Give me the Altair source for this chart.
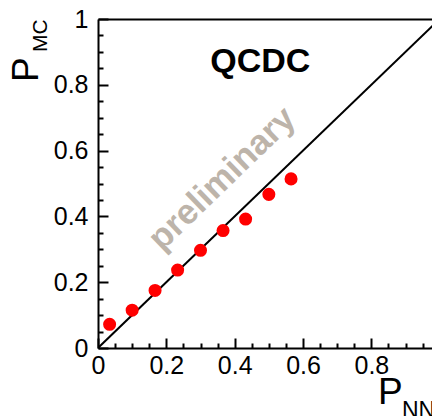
import altair as alt
import pandas as pd

# ---- data ----
p_nn = [0.034, 0.100, 0.167, 0.233, 0.300, 0.366, 0.432, 0.500, 0.565]
p_mc = [0.072, 0.115, 0.175, 0.237, 0.297, 0.357, 0.392, 0.467, 0.514]
diag_x = [0.0, 1.0]
diag_y = [0.0, 1.0]
x_major = [0, 0.2, 0.4, 0.6, 0.8]
y_major = [0, 0.2, 0.4, 0.6, 0.8, 1.0]
tick_values = [0, 0.05, 0.1, 0.15, 0.2, 0.25, 0.3, 0.35, 0.4, 0.45, 0.5,
               0.55, 0.6, 0.65, 0.7, 0.75, 0.8, 0.85, 0.9, 0.95, 1.0]
label_text = ["QCDC"]
label_x = [0.475]
label_y = [0.839]
wm_text = ["preliminary"]
wm_x = [0.363]
wm_y = [0.515]

W, H = 334, 329
XMAX = 0.9775
FONT = "Liberation Sans"

xs = alt.Scale(domain=[0, XMAX], nice=False, zero=False)
ys = alt.Scale(domain=[0, 1], nice=False, zero=False)

major_test = "abs(datum.value*5 - round(datum.value*5)) < 0.001"

label_x_axis = alt.Axis(orient="bottom", values=x_major, format="~g", ticks=False,
                        domain=True, domainColor="black", domainWidth=2,
                        labelFont=FONT, labelFontSize=25, labelColor="black",
                        labelPadding=5, labelFlush=False, labelOverlap=False,
                        title=None, grid=False)
label_y_axis = alt.Axis(orient="left", values=y_major, format="~g", ticks=False,
                        domain=True, domainColor="black", domainWidth=2,
                        labelFont=FONT, labelFontSize=25, labelColor="black",
                        labelPadding=10, labelFlush=False, labelOverlap=False,
                        title=None, grid=False)
tick_x_axis = alt.Axis(orient="top", offset=-H, values=tick_values, labels=False,
                       domain=False, ticks=True, tickColor="black", tickWidth=2,
                       tickSize={"condition": {"test": major_test, "value": 10}, "value": 5},
                       title=None, grid=False)
tick_y_axis = alt.Axis(orient="right", offset=-W, values=tick_values, labels=False,
                       domain=False, ticks=True, tickColor="black", tickWidth=2,
                       tickSize={"condition": {"test": major_test, "value": 10}, "value": 5},
                       title=None, grid=False)
top_axis = alt.Axis(orient="top", labels=False, ticks=False, domain=True,
                    domainColor="black", domainWidth=2, title=None, grid=False)

diag_df = pd.DataFrame({"x": diag_x, "y": diag_y})
pts_df = pd.DataFrame({"x": p_nn, "y": p_mc})
lab_df = pd.DataFrame({"x": label_x, "y": label_y, "t": label_text})
wm_df = pd.DataFrame({"x": wm_x, "y": wm_y, "t": wm_text})

diag = alt.Chart(diag_df).mark_line(color="black", strokeWidth=2, clip=True).encode(
    x=alt.X("x:Q", scale=xs, axis=label_x_axis),
    y=alt.Y("y:Q", scale=ys, axis=label_y_axis),
)
pts = alt.Chart(pts_df).mark_circle(color="#ff0000", opacity=1, size=170).encode(
    x=alt.X("x:Q", scale=xs, axis=tick_x_axis),
    y=alt.Y("y:Q", scale=ys, axis=tick_y_axis),
)
qcdc = alt.Chart(lab_df).mark_text(font=FONT, fontSize=34, fontWeight="bold",
                                   color="black", align="center",
                                   baseline="alphabetic").encode(
    x=alt.X("x:Q", scale=xs, axis=top_axis),
    y=alt.Y("y:Q", scale=ys, axis=None),
    text="t:N",
)
wm = alt.Chart(wm_df).mark_text(font=FONT, fontSize=35, fontWeight="bold",
                                color="#bdb4aa", align="center", baseline="middle",
                                angle=316).encode(
    x=alt.X("x:Q", scale=xs, axis=None),
    y=alt.Y("y:Q", scale=ys, axis=None),
    text="t:N",
)

# axis titles with subscripts
ymain_df = pd.DataFrame({"t": ["P"]})
ysub_df = pd.DataFrame({"t": ["MC"]})
xmain_df = pd.DataFrame({"t": ["P"]})
xsub_df = pd.DataFrame({"t": ["NN"]})

ymain = alt.Chart(ymain_df).mark_text(font=FONT, fontSize=37, color="black", align="left",
                                      baseline="alphabetic", angle=270).encode(
    x=alt.value(-60), y=alt.value(63), text="t:N")
ysub = alt.Chart(ysub_df).mark_text(font=FONT, fontSize=21, color="black", align="left",
                                    baseline="alphabetic", angle=270).encode(
    x=alt.value(-51), y=alt.value(33), text="t:N")
xmain = alt.Chart(xmain_df).mark_text(font=FONT, fontSize=37, color="black", align="left",
                                      baseline="alphabetic").encode(
    x=alt.value(280), y=alt.value(385), text="t:N")
xsub = alt.Chart(xsub_df).mark_text(font=FONT, fontSize=23, color="black", align="left",
                                    baseline="alphabetic").encode(
    x=alt.value(304), y=alt.value(399), text="t:N")

chart = alt.layer(diag, pts, qcdc, wm, ymain, ysub, xmain, xsub).resolve_axis(
    x="independent", y="independent"
).properties(
    width=W, height=H,
    autosize=alt.AutoSizeParams(type="none"),
    padding={"left": 98, "top": 19, "right": 0, "bottom": 68},
    background="white",
).configure_view(stroke=None)

chart.save("out.html", embed_options={"renderer": "svg", "actions": False})
